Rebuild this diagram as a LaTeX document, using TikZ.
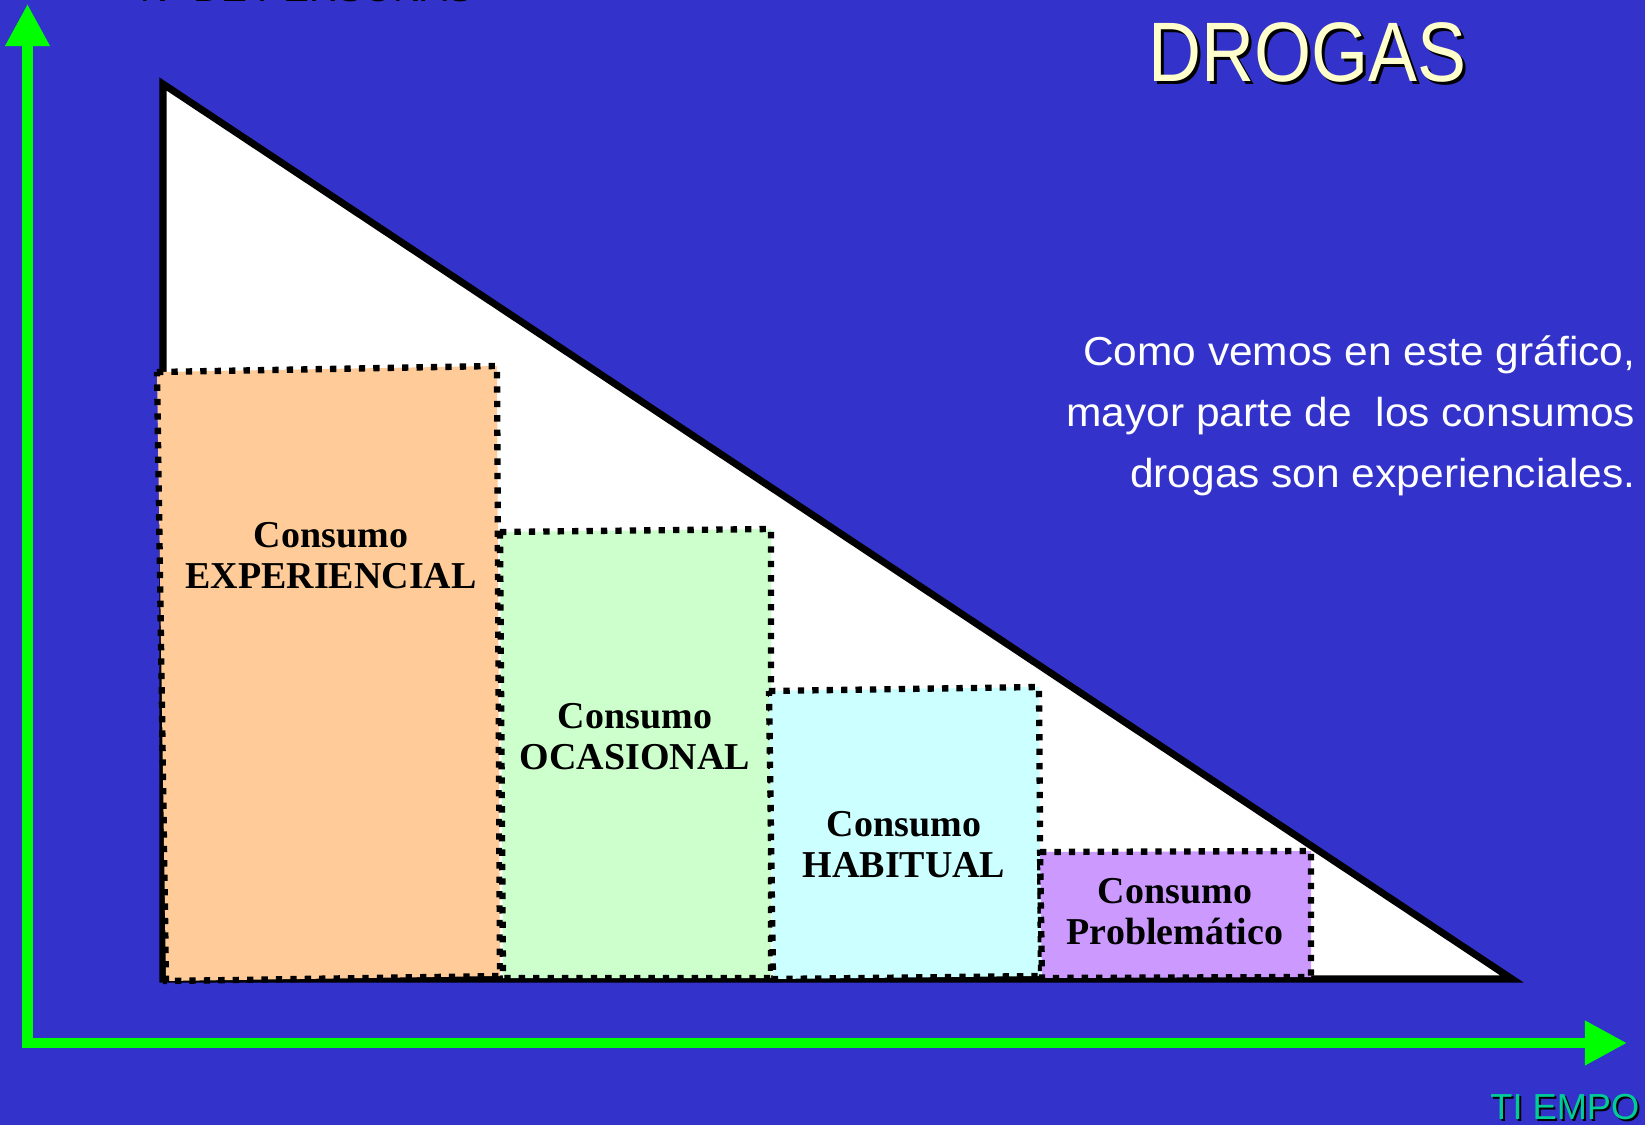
\documentclass[tikz,border=0pt]{standalone}
\usepackage{fontspec}
\setmainfont{Liberation Serif}
\newfontfamily\narrowsans[FakeStretch=0.87]{Liberation Sans}
\newfontfamily\widesans[FakeStretch=1.05]{Liberation Sans}
\newfontfamily\plainsans{Liberation Sans}
\usetikzlibrary{arrows.meta}
\definecolor{fondo}{HTML}{3333CC}
\definecolor{verde}{HTML}{00FF00}
\definecolor{naranja}{HTML}{FFCC99}
\definecolor{menta}{HTML}{CCFFCC}
\definecolor{celeste}{HTML}{CCFFFF}
\definecolor{lila}{HTML}{CC99FF}
\definecolor{crema}{HTML}{FFFFCC}
\definecolor{turquesa}{HTML}{00CC99}

\begin{document}
\begin{tikzpicture}[x=0.01cm, y=-0.01cm,
    caja/.style={line width=1.8pt, dash pattern=on 1.8pt off 2.3pt},
    etiqueta/.style={font=\bfseries\fontsize{10.8}{11.7}\selectfont, align=center, text=black, inner sep=0pt},
    eje/.style={draw=verde, line width=2.85pt, line join=miter,
        {Triangle[length=12pt,width=12pt]}-{Triangle[length=12pt,width=12pt]}},
    titulo/.style={font=\narrowsans\fontsize{24}{28}\selectfont, text=crema, inner sep=0pt},
    texto/.style={font=\widesans\fontsize{11.5}{17.4}\selectfont, align=right, text=white, inner sep=0pt},
    rotulo/.style={font=\plainsans\fontsize{10.3}{12}\selectfont, text=turquesa, inner sep=0pt}]
    \useasboundingbox (0,0) rectangle (1645,1125);
    \fill[fondo] (0,0) rectangle (1645,1125);
    \clip (0,0) rectangle (1645,1125);

    % ejes
    \coordinate (origen) at (27.5,1043);
    \coordinate (ytope) at (27.5,4);
    \coordinate (xfin) at (1627,1043);
    \draw[eje] (ytope) -- (origen) -- (xfin);
    \node[rotulo, font=\plainsans\fontsize{11}{12}\selectfont, text=black, anchor=base west] at (140,2) {Nº DE PERSONAS};
    \node[rotulo, font=\plainsans\fontsize{11}{12}\selectfont, anchor=base west] (personas) at (138,-1) {Nº DE PERSONAS};
    \node[rotulo, text=black, anchor=base east] at (1642,1121) {TI EMPO};
    \node[rotulo, anchor=base east] (tiempo) at (1640,1119) {TI EMPO};

    % triangulo
    \coordinate (A) at (163,84);
    \coordinate (B) at (163,979);
    \coordinate (C) at (1512,979);
    \filldraw[fill=white, draw=black, line width=2pt, line join=miter] (A) -- (B) -- (C) -- cycle;

    % cajas
    \filldraw[caja, fill=naranja] (157,372) -- (497,366) -- (500,976) -- (166,981) -- cycle;
    \filldraw[caja, fill=menta] (500,532) -- (771,529) -- (771,978) -- (503,978) -- cycle;
    \filldraw[caja, fill=celeste] (769,691) -- (1039,687) -- (1041,976) -- (773,979) -- cycle;
    \filldraw[caja, fill=lila] (1040,852) -- (1311,851) -- (1311,977) -- (1042,978) -- cycle;

    \node[etiqueta] (exp) at (331,556) {Consumo\\EXPERIENCIAL};
    \node[etiqueta] (oca) at (635,737) {Consumo\\OCASIONAL};
    \node[etiqueta] (hab) at (904,845) {Consumo\\HABITUAL};
    \node[etiqueta] (pro) at (1175,912) {Consumo\\Problemático};

    % textos
    \node[titulo, text=black, anchor=base west] at (1151,85) {DROGAS};
    \node[titulo, anchor=base west] (drogas) at (1148,82) {DROGAS};
    \node[texto, anchor=east] (nota) at (1636,416) {Como vemos en este gráfico,\\mayor parte de\ \ los consumos\\drogas son experienciales.};
\end{tikzpicture}
\end{document}
